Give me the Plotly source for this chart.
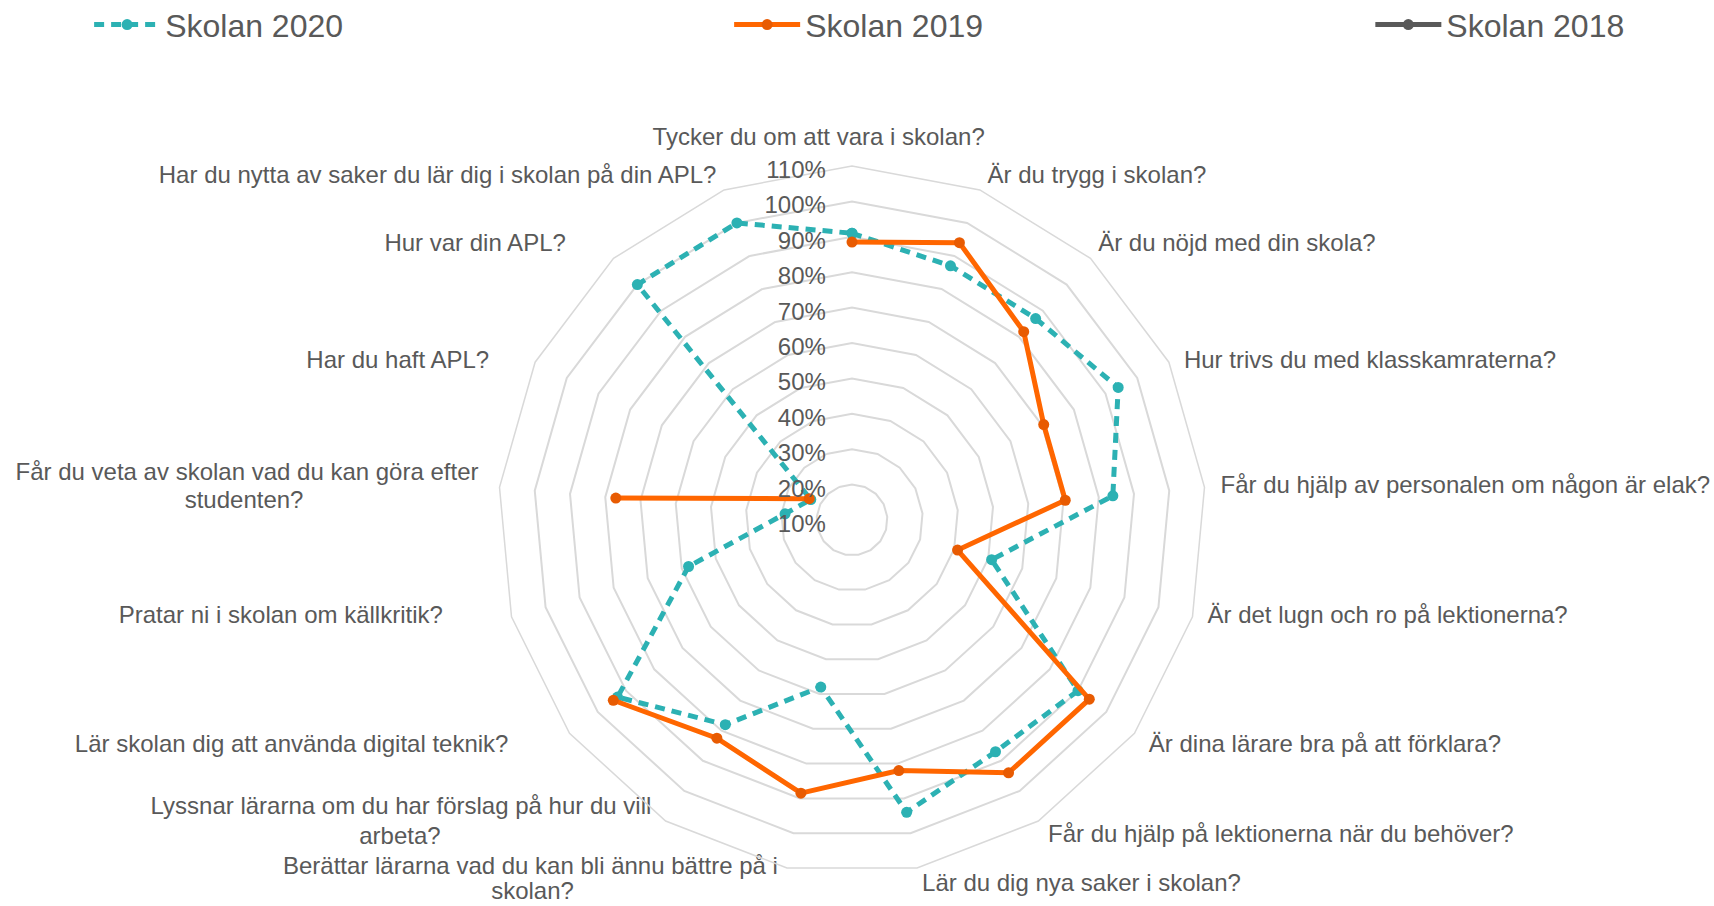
import plotly.graph_objects as go

categories = [
    "Tycker du om att vara i skolan?",
    "Är du trygg i skolan?",
    "Är du nöjd med din skola?",
    "Hur trivs du med klasskamraterna?",
    "Får du hjälp av personalen om någon är elak?",
    "Är det lugn och ro på lektionerna?",
    "Är dina lärare bra på att förklara?",
    "Får du hjälp på lektionerna när du behöver?",
    "Lär du dig nya saker i skolan?",
    "Berättar lärarna vad du kan bli ännu bättre på i skolan?",
    "Lyssnar lärarna om du har förslag på hur du vill arbeta?",
    "Lär skolan dig att använda digital teknik?",
    "Pratar ni i skolan om källkritik?",
    "Får du veta av skolan vad du kan göra efter studenten?",
    "Har du haft APL?",
    "Hur var din APL?",
    "Har du nytta av saker du lär dig i skolan på din APL?",
]

# first line of each category label as shown in the chart
label_first = [
    "Tycker du om att vara i skolan?",
    "Är du trygg i skolan?",
    "Är du nöjd med din skola?",
    "Hur trivs du med klasskamraterna?",
    "Får du hjälp av personalen om någon är elak?",
    "Är det lugn och ro på lektionerna?",
    "Är dina lärare bra på att förklara?",
    "Får du hjälp på lektionerna när du behöver?",
    "Lär du dig nya saker i skolan?",
    "Berättar lärarna vad du kan bli ännu bättre på i",
    "Lyssnar lärarna om du har förslag på hur du vill",
    "Lär skolan dig att använda digital teknik?",
    "Pratar ni i skolan om källkritik?",
    "Får du veta av skolan vad du kan göra efter",
    "Har du haft APL?",
    "Hur var din APL?",
    "Har du nytta av saker du lär dig i skolan på din APL?",
]
# wrapped second lines (category index -> text)
label_second_idx = [9, 10, 13]
label_second = ["skolan?", "arbeta?", "studenten?"]

skolan_2020 = [0.91, 0.87, 0.87, 0.94, 0.84, 0.51, 0.90, 0.87, 0.94, 0.58,
               0.78, 0.93, 0.58, 0.29, 0.23, 1.00, 1.00]
skolan_2019 = [0.885, 0.94, 0.82, 0.705, 0.705, 0.41, 0.94, 0.94, 0.82, 0.885,
               0.825, 0.945, None, 0.77, 0.235, None, None]
skolan_2018 = [None] * 17

radial_ticks = [0.1, 0.2, 0.3, 0.4, 0.5, 0.6, 0.7, 0.8, 0.9, 1.0, 1.1]

# ---- placement styling of the category labels around the outer ring ----
# (textposition, gap in px, number of padding spaces)
first_style = [
    ("top center", 15, 10),
    ("top right", 1, 1),
    ("top right", 1, 1),
    ("middle right", 15, 0),
    ("middle right", 16, 0),
    ("middle right", 15, 0),
    ("bottom right", 1, 2),
    ("bottom right", 3, 1),
    ("bottom right", 5, 0),
    ("middle left", 9, 0),
    ("top left", 1, 2),
    ("bottom left", 1, 9),
    ("middle left", 2, 10),
    ("top left", 1, 3),
    ("middle left", 6, 6),
    ("top left", 1, 7),
    ("top left", 1, 1),
]
second_style = [
    ("bottom left", 13, 30),
    ("bottom left", 5, 33),
    ("bottom left", 2.7, 29),
]

NB = "\u00a0"


def pad(text, pos, n):
    return NB * n + text if "right" in pos else text + NB * n


def gap_size(g):
    return 0 if g <= 0 else max((g - 1) * 1.6, 0.01)


TEAL = "#2CB1B3"
ORANGE = "#FF6600"
ORANGE_MK = "#E85B02"
GRAY = "#595959"

fig = go.Figure()
fig.add_trace(go.Scatterpolar(
    r=skolan_2020 + [skolan_2020[0]],
    theta=categories + [categories[0]],
    name="Skolan 2020",
    mode="lines+markers",
    line=dict(color=TEAL, width=5, dash="10px,7px"),
    marker=dict(color=TEAL, size=11),
    connectgaps=False,
    legend="legend",
))
fig.add_trace(go.Scatterpolar(
    r=skolan_2019,
    theta=categories,
    name="Skolan 2019",
    mode="lines+markers",
    line=dict(color=ORANGE, width=5),
    marker=dict(color=ORANGE_MK, size=11),
    connectgaps=False,
    legend="legend2",
))
fig.add_trace(go.Scatterpolar(
    r=skolan_2018,
    theta=categories,
    name="Skolan 2018",
    mode="lines+markers",
    line=dict(color=GRAY, width=5),
    marker=dict(color=GRAY, size=11),
    connectgaps=False,
    legend="legend3",
))

# category labels around the outer ring (first lines)
fig.add_trace(go.Scatterpolar(
    r=[radial_ticks[-1]] * len(categories),
    theta=categories,
    mode="markers+text",
    text=[pad(t, s[0], s[2]) for t, s in zip(label_first, first_style)],
    textposition=[s[0] for s in first_style],
    textfont=dict(size=24, color=GRAY),
    marker=dict(size=[gap_size(s[1]) for s in first_style], color="rgba(0,0,0,0)"),
    cliponaxis=False,
    hoverinfo="skip",
    showlegend=False,
))
# wrapped second lines
fig.add_trace(go.Scatterpolar(
    r=[radial_ticks[-1]] * len(label_second_idx),
    theta=[categories[i] for i in label_second_idx],
    mode="markers+text",
    text=[pad(t, s[0], s[2]) for t, s in zip(label_second, second_style)],
    textposition=[s[0] for s in second_style],
    textfont=dict(size=24, color=GRAY),
    marker=dict(size=[gap_size(s[1]) for s in second_style], color="rgba(0,0,0,0)"),
    cliponaxis=False,
    hoverinfo="skip",
    showlegend=False,
))

W, H = 1714, 906
cx, cy, R = 852, 520, 354
leg_common = dict(orientation="h", y=1.003, yanchor="top", itemwidth=66,
                  font=dict(size=32, color=GRAY), bgcolor="rgba(0,0,0,0)")
fig.update_layout(
    width=W, height=H,
    margin=dict(l=0, r=0, t=0, b=0, autoexpand=False),
    paper_bgcolor="white",
    font=dict(family="Liberation Sans, Arial, sans-serif", color=GRAY, size=24),
    polar=dict(
        domain=dict(x=[(cx - R) / W, (cx + R) / W],
                    y=[(H - cy - R) / H, (H - cy + R) / H]),
        gridshape="linear",
        bgcolor="white",
        radialaxis=dict(
            range=[0.1, 1.1], tickmode="array", tickvals=radial_ticks,
            tickformat=".0%", angle=90, side="counterclockwise",
            showline=False, gridcolor="#D9D9D9", gridwidth=1.5,
            ticks="outside", ticklen=4, tickcolor="rgba(0,0,0,0)",
            tickfont=dict(size=24, color=GRAY),
        ),
        angularaxis=dict(
            direction="clockwise", rotation=90, showgrid=False,
            showline=True, linecolor="#D9D9D9", linewidth=1.5, ticks="",
            showticklabels=False,
        ),
    ),
    legend=dict(x=0.0520, **leg_common),
    legend2=dict(x=0.4254, **leg_common),
    legend3=dict(x=0.7995, **leg_common),
    showlegend=True,
)

fig.write_html("out.html",
               config={"displayModeBar": False},
               post_script="document.body.style.margin='0px';document.body.style.overflow='hidden';")
